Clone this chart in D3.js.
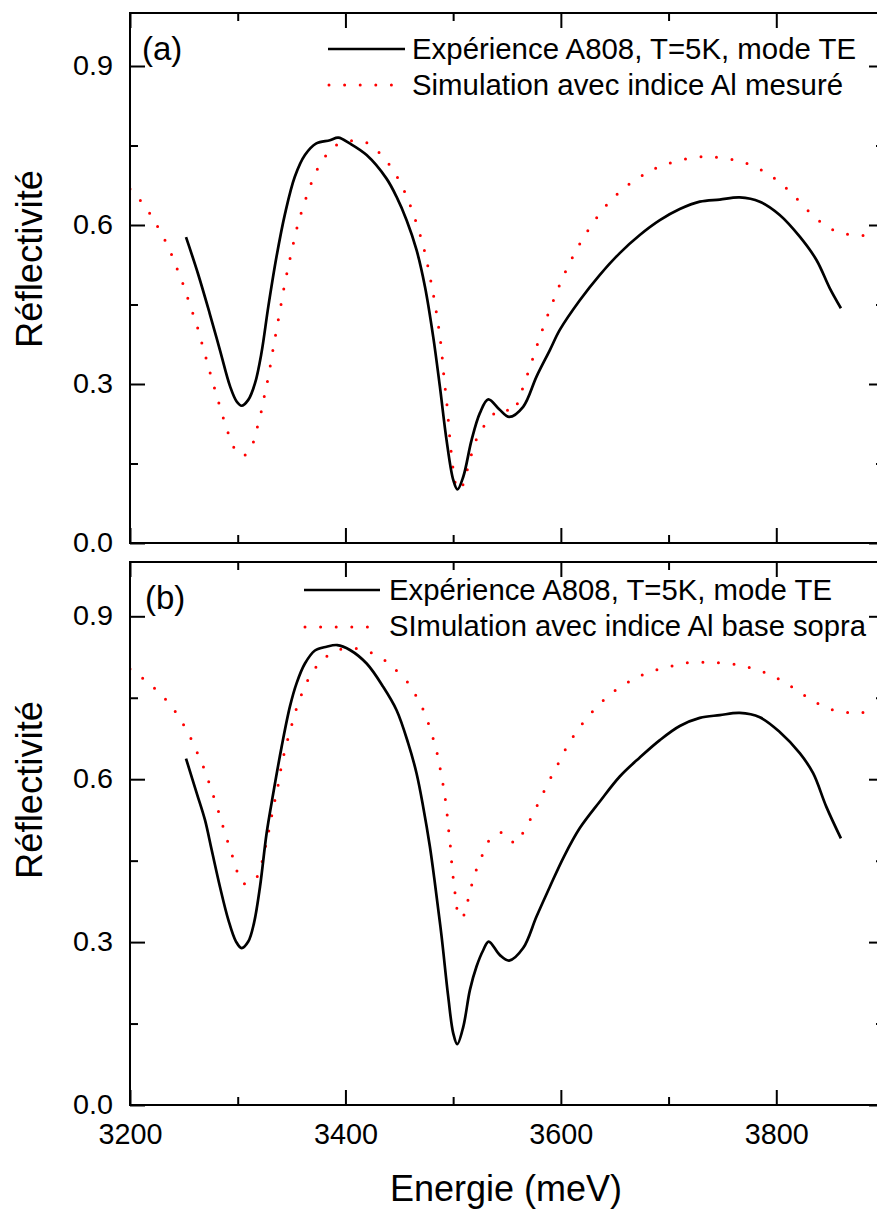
<!DOCTYPE html>
<html><head><meta charset="utf-8">
<script src="https://cdn.jsdelivr.net/npm/d3@7"></script>
<style>body{margin:0;background:#fff}svg{display:block}</style></head>
<body><svg id="c" width="877" height="1209"></svg>
<script>
// ---------- data ----------
const xMajorTicks=[3200,3400,3600,3800];
const xMinorTicks=[3300,3500,3700,3900];
const yMajorTicks=[0.0,0.3,0.6,0.9];
const yMinorTicks=[0.15,0.45,0.75];
const panelLabels=["(a)","(b)"];
const legendA=["Expérience A808, T=5K, mode TE","Simulation avec indice Al mesuré"];
const legendB=["Expérience A808, T=5K, mode TE","SImulation avec indice Al base sopra"];
const xTitle="Energie (meV)";
const yTitle="Réflectivité";

const expA_E=[3252,3263,3274,3283.5,3293,3299,3303.6,3309.8,3316,3322,3328.4,3336,3344,3353,3362.4,3373,3385.6,3393.4,3404,3419.7,3438,3447.5,3456.8,3466,3473.8,3481.5,3487.7,3493.9,3500.1,3504,3509.4,3517.1,3524.8,3532.6,3543,3552,3565,3577.4,3589.8,3599,3617.6,3636.2,3654.7,3673.3,3691.9,3710.4,3729,3747.5,3766,3784.7,3803.2,3821.8,3837.3,3849.6,3860];
const expA_R=[0.577,0.509,0.433,0.364,0.295,0.267,0.259,0.27,0.301,0.358,0.446,0.54,0.622,0.691,0.732,0.754,0.760,0.765,0.754,0.732,0.688,0.653,0.609,0.553,0.484,0.389,0.295,0.194,0.119,0.101,0.125,0.194,0.245,0.271,0.252,0.238,0.257,0.314,0.364,0.402,0.458,0.506,0.547,0.581,0.609,0.63,0.644,0.648,0.652,0.644,0.619,0.578,0.534,0.481,0.443];

const simA_E=[3200,3214,3223,3231,3238,3244,3249.5,3254.4,3259.4,3264,3268,3272,3276,3280.4,3284.5,3289,3294.4,3299,3304.6,3310,3314.5,3318.5,3322.2,3325,3328.1,3333,3338.3,3343.5,3349.7,3356.5,3365.8,3371.7,3379.4,3391.8,3406.7,3421.2,3435.1,3445,3453.1,3459.2,3464.5,3469.1,3473.2,3479.4,3484.6,3488.6,3491.4,3494.5,3497,3500.1,3502.8,3505.6,3508.7,3513.1,3521.7,3531,3541.8,3548,3555.7,3561.5,3571.8,3581.4,3592.2,3604.3,3619.2,3639.3,3652.3,3666.5,3680.4,3691,3704.9,3719.7,3734.6,3748.2,3764,3777.9,3792.7,3806.3,3819.3,3832,3845.6,3859.9,3874.4,3900];
const simA_R=[0.668,0.635,0.606,0.577,0.547,0.516,0.487,0.457,0.427,0.398,0.367,0.339,0.309,0.279,0.25,0.221,0.189,0.172,0.164,0.172,0.19,0.221,0.251,0.28,0.31,0.368,0.428,0.487,0.547,0.606,0.665,0.696,0.724,0.751,0.759,0.754,0.728,0.701,0.671,0.642,0.612,0.583,0.553,0.493,0.433,0.375,0.315,0.256,0.196,0.138,0.108,0.1,0.108,0.138,0.196,0.227,0.25,0.252,0.247,0.275,0.335,0.394,0.453,0.512,0.570,0.630,0.658,0.682,0.699,0.71,0.719,0.726,0.729,0.727,0.721,0.712,0.696,0.675,0.649,0.622,0.599,0.585,0.581,0.58];

const expB_E=[3252,3262,3269.6,3275.8,3283.5,3291.3,3298.4,3303.6,3309.8,3315.1,3320.7,3326.8,3333,3340.8,3348.5,3354.7,3362.4,3371.7,3382.5,3392.4,3404.2,3419.7,3435.1,3447.5,3458.3,3466,3472.2,3478.4,3483.1,3489.3,3495.4,3500.1,3503.8,3509.4,3515.6,3521.7,3527.9,3533,3543.4,3552,3565,3577.4,3589.8,3603,3617.6,3636.2,3654.7,3673.3,3691.9,3710.4,3729,3747.5,3766.1,3784.7,3803.2,3821.8,3834.2,3846.5,3860];
const expB_R=[0.638,0.574,0.525,0.47,0.402,0.341,0.301,0.289,0.301,0.335,0.402,0.5,0.574,0.66,0.734,0.777,0.813,0.837,0.844,0.847,0.838,0.813,0.77,0.727,0.666,0.611,0.549,0.476,0.408,0.31,0.2,0.132,0.112,0.144,0.212,0.255,0.285,0.301,0.276,0.266,0.289,0.347,0.402,0.458,0.51,0.559,0.605,0.64,0.672,0.698,0.713,0.718,0.722,0.714,0.687,0.648,0.611,0.549,0.491];

const simB_E=[3200,3214.8,3228.8,3241.1,3250.4,3258.2,3264.3,3270.5,3275.2,3280.4,3284.5,3289.1,3293.7,3298.4,3302,3305.2,3310,3316.9,3322.2,3325.6,3328.7,3331.5,3334.6,3337.7,3340.1,3343.2,3346.9,3351,3355.3,3360.9,3368,3378.8,3393.4,3407.9,3422.7,3437.3,3445.3,3458.3,3467.6,3474.4,3479.4,3483.7,3486.8,3489.6,3492,3493.9,3495.4,3497,3498.2,3499.5,3501.3,3502.9,3505,3507.8,3510.5,3513.1,3516.5,3521.1,3527,3534.1,3544.9,3551,3557.3,3567.2,3574.9,3582,3589.1,3596.6,3604.3,3613.6,3624.4,3636.8,3650.1,3664.6,3677,3690.3,3704.8,3719.7,3734.6,3748.2,3763.6,3777.9,3792.4,3807,3821.2,3835.1,3850.3,3864.5,3879,3900];
const simB_R=[0.803,0.781,0.756,0.727,0.698,0.668,0.64,0.611,0.582,0.552,0.525,0.495,0.467,0.437,0.415,0.408,0.408,0.417,0.445,0.474,0.503,0.532,0.562,0.591,0.619,0.648,0.677,0.706,0.735,0.764,0.793,0.82,0.838,0.841,0.834,0.818,0.804,0.777,0.746,0.718,0.687,0.66,0.631,0.602,0.573,0.545,0.514,0.486,0.457,0.428,0.399,0.37,0.35,0.344,0.352,0.372,0.4,0.431,0.46,0.489,0.502,0.495,0.482,0.51,0.539,0.568,0.597,0.625,0.655,0.685,0.713,0.74,0.763,0.781,0.793,0.802,0.809,0.815,0.815,0.814,0.811,0.804,0.794,0.779,0.761,0.743,0.729,0.723,0.723,0.723];

// ---------- drawing ----------
const FONT="'Liberation Sans', Arial, sans-serif";
const svg=d3.select("#c");
const x=d3.scaleLinear().domain([3200,3900]).range([130,884]);

const panels=[
  {top:13,bottom:543,exp:[expA_E,expA_R],sim:[simA_E,simA_R],legend:legendA,label:panelLabels[0],
   labelPos:[142,60],leg:{x1:328,x2:405,tx:412,y:[49,85],base:[59,95],len:[444,431]},xLabels:false,titleY:259},
  {top:562,bottom:1105,exp:[expB_E,expB_R],sim:[simB_E,simB_R],legend:legendB,label:panelLabels[1],
   labelPos:[145,609],leg:{x1:304,x2:380,tx:389,y:[590,627],base:[600,636],len:[443,477]},xLabels:true,titleY:790}
];

const defs=svg.append("defs");

panels.forEach((p,i)=>{
  const y=d3.scaleLinear().domain([0,1.0]).range([p.bottom,p.top]);
  const g=svg.append("g");
  const cid="clip"+i;
  defs.append("clipPath").attr("id",cid).append("rect")
    .attr("x",130).attr("y",p.top).attr("width",754).attr("height",p.bottom-p.top);

  const line=d3.line().x(d=>x(d[0])).y(d=>y(d[1])).curve(d3.curveCatmullRom.alpha(0.5));
  const simPts=p.sim[0].map((e,k)=>[e,p.sim[1][k]]);
  const expPts=p.exp[0].map((e,k)=>[e,p.exp[1][k]]);

  const cg=g.append("g").attr("clip-path",`url(#${cid})`);
  cg.append("path").attr("d",line(simPts)).attr("fill","none").attr("stroke","#ff0000")
    .attr("stroke-width",3).attr("stroke-linecap","round").attr("stroke-dasharray","0,15.6");
  cg.append("path").attr("d",line(expPts)).attr("fill","none").attr("stroke","#000")
    .attr("stroke-width",2.7).attr("stroke-linejoin","round");

  const styleAxis=sel=>{sel.select(".domain").remove();
    sel.selectAll(".tick line").attr("stroke","#000").attr("stroke-width",2);};
  // left
  g.append("g").attr("transform","translate(130,0)")
    .call(d3.axisLeft(y).tickValues(yMajorTicks).tickSize(-15).tickPadding(17).tickFormat(d3.format(".1f")))
    .call(styleAxis)
    .call(s=>s.selectAll("text").attr("font-family",FONT).attr("font-size",28).attr("fill","#000")
      .attr("dy","0.3em").attr("textLength",40).attr("lengthAdjust","spacingAndGlyphs"));
  g.append("g").attr("transform","translate(130,0)")
    .call(d3.axisLeft(y).tickValues(yMinorTicks).tickSize(-8).tickFormat("")).call(styleAxis);
  // right
  g.append("g").attr("transform","translate(884,0)")
    .call(d3.axisRight(y).tickValues(yMajorTicks).tickSize(-15).tickFormat("")).call(styleAxis);
  g.append("g").attr("transform","translate(884,0)")
    .call(d3.axisRight(y).tickValues(yMinorTicks).tickSize(-8).tickFormat("")).call(styleAxis);
  // top
  g.append("g").attr("transform",`translate(0,${p.top})`)
    .call(d3.axisTop(x).tickValues(xMajorTicks).tickSize(-15).tickFormat("")).call(styleAxis);
  g.append("g").attr("transform",`translate(0,${p.top})`)
    .call(d3.axisTop(x).tickValues(xMinorTicks).tickSize(-8).tickFormat("")).call(styleAxis);
  // bottom
  const bAx=g.append("g").attr("transform",`translate(0,${p.bottom})`)
    .call(d3.axisBottom(x).tickValues(xMajorTicks).tickSize(-15).tickPadding(18)
      .tickFormat(p.xLabels?d3.format("d"):""))
    .call(styleAxis);
  bAx.selectAll("text").attr("font-family",FONT).attr("font-size",29).attr("fill","#000")
    .attr("textLength",64).attr("lengthAdjust","spacingAndGlyphs");
  g.append("g").attr("transform",`translate(0,${p.bottom})`)
    .call(d3.axisBottom(x).tickValues(xMinorTicks).tickSize(-8).tickFormat("")).call(styleAxis);

  // frame
  g.append("rect").attr("x",130).attr("y",p.top).attr("width",754).attr("height",p.bottom-p.top)
    .attr("fill","none").attr("stroke","#000").attr("stroke-width",2);

  // panel label
  g.append("text").attr("x",p.labelPos[0]).attr("y",p.labelPos[1]).text(p.label)
    .attr("font-family",FONT).attr("font-size",33).attr("fill","#000");

  // legend
  const L=p.leg;
  g.append("line").attr("x1",L.x1).attr("x2",L.x2).attr("y1",L.y[0]).attr("y2",L.y[0])
    .attr("stroke","#000").attr("stroke-width",2.7);
  g.append("line").attr("x1",L.x1+1).attr("x2",L.x2-10).attr("y1",L.y[1]).attr("y2",L.y[1])
    .attr("stroke","#ff0000").attr("stroke-width",3).attr("stroke-linecap","round").attr("stroke-dasharray","0,15.6");
  p.legend.forEach((t,k)=>{
    g.append("text").attr("x",L.tx).attr("y",L.base[k]).text(t)
      .attr("font-family",FONT).attr("font-size",29).attr("fill","#000")
      .attr("textLength",L.len[k]).attr("lengthAdjust","spacingAndGlyphs");
  });

  // y title
  g.append("text").attr("transform",`translate(42,${p.titleY}) rotate(-90)`).attr("text-anchor","middle")
    .text(yTitle).attr("font-family",FONT).attr("font-size",36).attr("fill","#000")
    .attr("textLength",178).attr("lengthAdjust","spacingAndGlyphs");
});

// x title
svg.append("text").attr("x",506).attr("y",1201).attr("text-anchor","middle").text(xTitle)
  .attr("font-family",FONT).attr("font-size",36).attr("fill","#000")
  .attr("textLength",232).attr("lengthAdjust","spacingAndGlyphs");
</script>
</body></html>
